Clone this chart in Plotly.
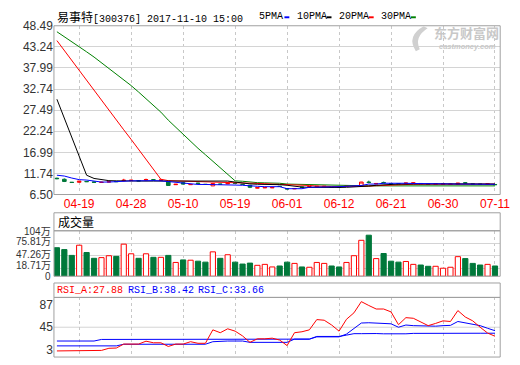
import plotly.graph_objects as go

W, H = 520, 365

# ---------------- data ----------------
dates = ['04-14', '04-15', '04-18', '04-19', '04-20', '04-21', '04-22', '04-25', '04-26', '04-27',
         '04-28', '04-29', '05-03', '05-04', '05-05', '05-06', '05-09', '05-10', '05-11', '05-12',
         '05-13', '05-16', '05-17', '05-18', '05-19', '05-20', '05-23', '05-24', '05-25', '05-26',
         '05-27', '06-01', '06-02', '06-03', '06-06', '06-07', '06-08', '06-09', '06-12', '06-13',
         '06-14', '06-15', '06-16', '06-17', '06-20', '06-21', '06-22', '06-23', '06-24', '06-27',
         '06-28', '06-29', '06-30', '07-01', '07-04', '07-05', '07-06', '07-07', '07-08', '07-11']
tick_dates = ['04-19', '04-28', '05-10', '05-19', '06-01', '06-12', '06-21', '06-30', '07-11']

price_open = [10.55, 10.30, 9.55, 9.55, 9.75, 9.60, 9.50, 9.60, 9.75, 9.95,
              9.95, 9.95, 10.15, 10.20, 10.05, 9.75, 8.95, 9.45, 8.95, 9.35,
              9.05, 8.65, 9.10, 9.15, 9.35, 9.05, 8.80, 8.10, 8.15, 8.15,
              8.55, 7.95, 7.90, 8.35, 8.35, 8.45, 8.45, 8.30, 8.30, 8.55,
              8.60, 8.75, 9.60, 9.15, 9.50, 9.25, 9.15, 9.25, 9.30, 9.25,
              9.10, 9.05, 9.05, 9.00, 9.00, 9.40, 9.15, 9.10, 9.05, 9.00]
price_close = [10.45, 9.75, 9.50, 9.80, 9.70, 9.55, 9.55, 9.70, 9.70, 10.05,
               10.05, 9.90, 10.20, 10.15, 10.10, 8.75, 9.05, 9.10, 9.00, 9.25,
               9.00, 9.25, 9.05, 9.25, 9.30, 9.00, 8.30, 8.20, 8.25, 8.25,
               8.50, 7.90, 8.00, 8.30, 8.45, 8.55, 8.55, 8.25, 8.25, 8.65,
               8.70, 9.60, 9.50, 9.25, 9.40, 9.20, 9.10, 9.35, 9.40, 9.20,
               9.05, 9.15, 9.15, 9.10, 9.35, 9.35, 9.10, 9.05, 9.15, 8.95]
price_high = [10.70, 10.50, 9.60, 9.85, 9.90, 9.70, 9.70, 9.80, 9.80, 10.40,
              10.20, 10.00, 10.45, 10.35, 10.20, 9.80, 9.10, 9.60, 9.10, 9.40,
              9.10, 9.30, 9.15, 9.30, 9.40, 9.10, 8.85, 8.25, 8.30, 8.30,
              8.60, 8.10, 8.05, 8.40, 8.50, 8.60, 8.60, 8.35, 8.35, 8.70,
              8.75, 9.65, 9.95, 9.30, 9.70, 9.30, 9.20, 9.40, 9.50, 9.30,
              9.15, 9.20, 9.20, 9.15, 9.40, 9.60, 9.20, 9.15, 9.20, 9.05]
price_low = [10.30, 9.60, 9.45, 9.40, 9.60, 9.50, 9.45, 9.55, 9.60, 9.80,
             9.90, 9.85, 10.00, 10.05, 10.00, 8.70, 8.90, 9.00, 8.90, 9.15,
             8.95, 8.60, 9.00, 9.10, 9.25, 8.95, 8.10, 8.05, 8.10, 8.10,
             8.45, 7.80, 7.85, 8.25, 8.30, 8.40, 8.40, 8.20, 8.20, 8.50,
             8.55, 8.70, 9.30, 9.10, 9.30, 9.15, 9.05, 9.20, 9.25, 9.15,
             9.00, 9.00, 9.00, 8.95, 8.95, 9.25, 9.05, 9.00, 9.00, 8.90]

ma5 = [11.30, 11.10, 10.60, 10.20, 10.10, 9.90, 9.60, 9.60, 9.70, 9.90,
       9.90, 9.90, 10.00, 9.95, 9.90, 9.70, 9.60, 9.30, 9.25, 9.00,
       9.00, 9.00, 9.00, 8.95, 8.85, 8.80, 8.75, 8.55, 8.45, 8.45,
       8.45, 7.95, 7.90, 7.95, 8.30, 8.30, 8.30, 8.35, 8.45, 8.55,
       8.70, 8.75, 9.10, 9.10, 9.30, 9.35, 9.35, 9.30, 9.25, 9.20,
       9.20, 9.20, 9.15, 9.10, 9.10, 9.10, 9.10, 9.10, 9.10, 9.05]
ma10 = [30.20, 25.50, 20.80, 16.00, 11.30, 10.50, 10.20, 9.95, 9.90, 9.85,
        9.85, 9.85, 9.85, 9.85, 9.85, 9.85, 9.85, 9.85, 9.85, 9.85,
        9.85, 9.85, 9.85, 9.85, 9.60, 9.30, 9.15, 9.05, 9.05, 9.00,
        8.95, 8.80, 8.50, 8.35, 8.30, 8.25, 8.25, 8.25, 8.25, 8.30,
        8.35, 8.45, 8.60, 8.80, 8.95, 9.05, 9.10, 9.10, 9.15, 9.15,
        9.15, 9.15, 9.15, 9.15, 9.15, 9.15, 9.15, 9.15, 9.15, 9.10]
ma20 = [44.80, 42.30, 39.90, 37.40, 35.00, 32.50, 30.00, 27.60, 25.10, 22.60,
        20.20, 17.70, 15.20, 12.80, 10.30, 9.95, 9.90, 9.85, 9.80, 9.80,
        9.75, 9.70, 9.60, 9.50, 9.45, 9.40, 9.35, 9.30, 9.20, 9.10,
        9.05, 9.00, 8.95, 8.85, 8.75, 8.60, 8.50, 8.50, 8.50, 8.50,
        8.50, 8.55, 8.60, 8.70, 8.80, 8.90, 9.00, 9.05, 9.05, 9.05,
        9.05, 9.05, 9.05, 9.05, 9.10, 9.10, 9.10, 9.10, 9.10, 9.10]
ma30 = [47.00, 45.80, 44.60, 43.30, 42.00, 40.70, 39.30, 37.90, 36.50, 35.00,
        33.60, 32.00, 30.40, 28.80, 27.00, 25.00, 23.20, 21.40, 19.60, 18.00,
        16.40, 14.80, 13.20, 11.50, 9.90, 9.80, 9.60, 9.45, 9.40, 9.40,
        9.30, 9.10, 9.05, 9.00, 9.00, 8.85, 8.80, 8.80, 8.75, 8.70,
        8.65, 8.65, 8.65, 8.65, 8.65, 8.65, 8.65, 8.65, 8.65, 8.65,
        8.65, 8.65, 8.65, 8.65, 8.65, 8.65, 8.65, 8.65, 8.65, 8.65]

volume_wan = [65.3, 61.0, 47.7, 71.0, 54.3, 41.0, 42.6, 47.0, 45.5, 73.4,
              51.4, 41.0, 51.4, 43.3, 43.3, 47.7, 31.6, 37.4, 36.7, 34.5,
              32.3, 55.8, 41.0, 49.2, 32.3, 27.9, 30.1, 25.0, 27.2, 21.3,
              23.5, 32.3, 29.4, 21.3, 20.6, 31.6, 29.4, 23.5, 21.3, 31.6,
              47.0, 82.2, 93.9, 40.4, 52.0, 34.5, 32.3, 33.8, 27.2, 25.7,
              22.8, 22.8, 18.4, 20.6, 44.8, 40.4, 29.4, 25.7, 27.2, 23.5]

rsi_a = [0.0, 0.0, 0.5, 1.0, 1.0, 1.0, 1.0, 5.0, 5.5, 13.0,
         13.0, 13.0, 18.5, 15.5, 15.5, 8.5, 13.0, 13.0, 17.5, 14.5,
         14.5, 40.0, 34.6, 42.0, 37.6, 28.5, 16.3, 23.0, 23.0, 24.2,
         20.6, 10.2, 34.6, 36.4, 40.0, 59.5, 58.3, 49.2, 37.6, 60.1,
         72.3, 93.6, 86.3, 79.6, 79.6, 74.1, 49.8, 63.2, 62.0, 55.3,
         48.0, 52.2, 57.1, 55.9, 76.6, 64.4, 57.1, 45.0, 34.0, 27.88]
rsi_b = [9.6, 9.6, 9.6, 9.6, 9.6, 9.6, 9.6, 9.6, 9.6, 12.7,
         12.7, 12.7, 12.7, 12.7, 12.7, 12.7, 12.7, 12.7, 12.7, 12.7,
         12.7, 17.5, 18.8, 18.8, 18.8, 18.8, 16.3, 16.3, 16.3, 16.3,
         16.3, 16.3, 22.4, 22.4, 22.4, 26.7, 26.7, 26.7, 26.7, 32.0,
         42.0, 53.0, 53.5, 52.5, 52.2, 51.5, 45.0, 49.2, 48.0, 47.5,
         47.0, 47.0, 48.0, 48.5, 55.9, 53.5, 51.0, 48.0, 43.0, 38.42]
rsi_c = [18.8, 18.8, 18.8, 18.8, 18.8, 18.8, 21.8, 21.8, 21.8, 21.8,
         21.8, 21.8, 21.8, 21.8, 21.8, 21.8, 21.8, 21.8, 21.8, 21.8,
         21.8, 21.8, 21.8, 21.8, 21.8, 21.8, 21.8, 22.4, 22.4, 22.4,
         22.4, 22.4, 22.4, 22.4, 22.4, 27.5, 27.5, 27.5, 27.5, 30.0,
         32.8, 32.8, 33.5, 33.0, 32.5, 32.3, 32.2, 32.5, 33.3, 33.2,
         33.0, 33.2, 33.5, 33.6, 33.8, 33.8, 33.7, 33.6, 33.6, 33.66]

main_ticks = [6.50, 11.74, 16.99, 22.24, 27.49, 32.74, 37.99, 43.24, 48.49]
vol_ticks = [0, 18.71, 47.26, 75.81, 104]
vol_tick_text = ['0', '18.71万', '47.26万', '75.81万', '104万']
rsi_ticks = [3, 45, 87]

# ---------------- styling ----------------
RED = '#FF0000'
DGREEN = '#00783A'
MGREEN = '#008000'
BLUE = '#0000FF'
BORDER = '#A0A0A0'
HGRID = '#D4D4D4'
VGRID = '#C8C8C8'
SANS = 'Liberation Sans, Noto Sans CJK SC, sans-serif'
MONO = 'Liberation Mono, Noto Sans CJK SC, monospace'


def px(x):
    return x / W


def py(y):
    return 1 - y / H


XL, XR = 55, 510
MAIN_T, MAIN_B = 19.5, 195
VOL_T, VOL_B = 232.7, 280
RSI_T, RSI_B = 302, 364

up = [c > o for o, c in zip(price_open, price_close)]
vol_fill = ['#FFFFFF' if u else DGREEN for u in up]
vol_line = [RED if u else DGREEN for u in up]

fig = go.Figure()

fig.add_trace(go.Candlestick(
    x=dates, open=price_open, high=price_high, low=price_low, close=price_close,
    increasing=dict(line=dict(color=RED, width=1), fillcolor='#FFFFFF'),
    decreasing=dict(line=dict(color=DGREEN, width=1), fillcolor=DGREEN),
    whiskerwidth=0, xaxis='x', yaxis='y', hoverinfo='skip'))

for series, col in [(ma30, MGREEN), (ma20, RED), (ma10, '#000000'), (ma5, BLUE)]:
    fig.add_trace(go.Scatter(x=dates, y=series, mode='lines',
                             line=dict(color=col, width=1), xaxis='x', yaxis='y',
                             hoverinfo='skip'))

fig.add_trace(go.Bar(x=dates, y=volume_wan, width=0.7,
                     marker=dict(color=vol_fill, line=dict(color=vol_line, width=1)),
                     xaxis='x2', yaxis='y2', hoverinfo='skip'))

for series, col in [(rsi_c, BLUE), (rsi_b, BLUE), (rsi_a, RED)]:
    fig.add_trace(go.Scatter(x=dates, y=series, mode='lines',
                             line=dict(color=col, width=1), xaxis='x3', yaxis='y3',
                             hoverinfo='skip'))

xcommon = dict(type='category', categoryorder='array', categoryarray=dates,
               range=[-0.4, 59.7], tickmode='array', tickvals=tick_dates,
               showgrid=True, gridcolor=VGRID, griddash='3px,3px', gridwidth=1,
               zeroline=False, showline=False, ticks='', fixedrange=True,
               domain=[px(XL), px(XR)])

fig.update_layout(
    width=W, height=H, margin=dict(l=0, r=0, t=0, b=0),
    paper_bgcolor='white', plot_bgcolor='white', showlegend=False,
    hovermode=False, bargap=0.3,
    xaxis=dict(**xcommon, anchor='y', rangeslider=dict(visible=False),
               showticklabels=True, tickfont=dict(family=SANS, size=12, color=RED)),
    xaxis2=dict(**xcommon, anchor='y2', showticklabels=False),
    xaxis3=dict(**xcommon, anchor='y3', showticklabels=False),
    yaxis=dict(domain=[py(MAIN_B), py(MAIN_T)], range=[6.50, 48.49],
               tickmode='array', tickvals=main_ticks,
               ticktext=['%.2f' % v for v in main_ticks],
               showgrid=True, gridcolor=HGRID, zeroline=False, ticks='',
               tickfont=dict(family=SANS, size=12, color='#333333'), fixedrange=True,
               anchor='x'),
    yaxis2=dict(domain=[py(VOL_B), py(VOL_T)], range=[0, 104],
                tickmode='array', tickvals=vol_ticks,
                showgrid=True, gridcolor=HGRID, zeroline=False, ticks='',
                showticklabels=False, fixedrange=True, anchor='x2'),
    yaxis3=dict(domain=[py(RSI_B), py(RSI_T)], range=[-11.6, 101.6],
                tickmode='array', tickvals=rsi_ticks,
                showgrid=False, zeroline=False, ticks='',
                tickfont=dict(family=SANS, size=12, color='#333333'), fixedrange=True,
                anchor='x3'),
)

shapes = []
# RSI 45 reference line
shapes.append(dict(type='line', xref='x3 domain', yref='y3', x0=0, x1=1, y0=45, y1=45,
                   line=dict(color=HGRID, width=1), layer='below'))
# panel frames
for (t, b) in [(MAIN_T, MAIN_B), (214, VOL_T), (VOL_T, VOL_B), (287, RSI_T), (RSI_T, RSI_B)]:
    shapes.append(dict(type='rect', xref='paper', yref='paper',
                       x0=px(XL), x1=px(XR), y0=py(b), y1=py(t),
                       line=dict(color=BORDER, width=1), fillcolor='rgba(0,0,0,0)',
                       layer='above'))
# legend colour swatches
for x0, col in [(290, BLUE), (333, '#000000'), (376, RED), (419, MGREEN)]:
    shapes.append(dict(type='rect', xref='paper', yref='paper',
                       x0=px(x0), x1=px(x0 + 5), y0=py(11.7), y1=py(9.7),
                       line=dict(width=0), fillcolor=col))
# watermark logo (swoosh)
shapes.append(dict(type='path', xref='paper', yref='paper',
                   path='M {} {} Q {} {} {} {} L {} {} Q {} {} {} {} Z'.format(
                       px(432), py(20), px(414), py(30), px(424), py(46),
                       px(428), py(44), px(422), py(31), px(436), py(22)),
                   line=dict(width=0), fillcolor='#D0D0D0'))
fig.update_layout(shapes=shapes)

ann = []


def text(x, y, s, size=12, color='#000000', family=MONO, anchor='left', **kw):
    ann.append(dict(xref='paper', yref='paper', x=px(x), y=py(y), text=s,
                    showarrow=False, xanchor=anchor, yanchor='middle',
                    font=dict(family=family, size=size, color=color), **kw))


text(56, 9.5, '<span style="font-family:Noto Sans CJK SC;font-size:12px">易事特</span>'
     '[300376] 2017-11-10 15:00', size=10)
for x, s in [(262, '5PMA'), (301, '10PMA'), (344, '20PMA'), (386, '30PMA')]:
    text(x, 10, s, size=10)
text(440, 27, '<b>东方财富网</b>', size=13, color='#C8C8C8', family='Noto Sans CJK SC')
text(446, 41.5, '<b><i>eastmoney.com</i></b>', size=7.5, color='#C8C8C8', family=SANS)
text(57, 223.5, '成交量', size=12, family='Noto Sans CJK SC')
text(56, 294.5, 'RSI_A:27.88', size=10, color=RED)
text(128, 294.5, 'RSI_B:38.42', size=10, color=BLUE)
text(200, 294.5, 'RSI_C:33.66', size=10, color=BLUE)

# volume axis labels, nudged slightly above their gridlines as in the original
for v, s, dy in zip(vol_ticks, vol_tick_text, [0, 3, 1.5, 1.5, -1]):
    ann.append(dict(xref='paper', yref='y2', x=px(53), y=v, text=s, showarrow=False,
                    xanchor='right', yanchor='middle', yshift=dy, borderpad=0,
                    font=dict(family=SANS, size=10, color='#333333')))
fig.update_layout(annotations=ann)

fig.write_html('out.html', config={'displayModeBar': False},
               post_script="document.body.style.margin='0';document.body.style.overflow='hidden';")
